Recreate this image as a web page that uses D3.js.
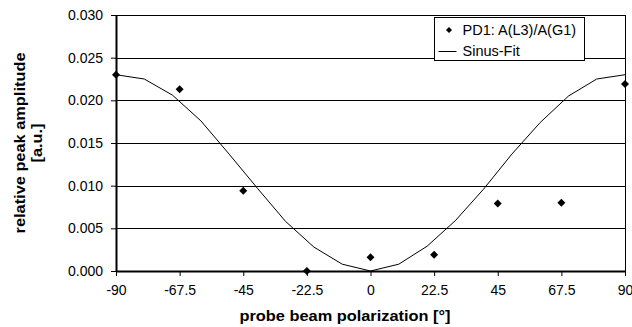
<!DOCTYPE html>
<html>
<head>
<meta charset="utf-8">
<script src="https://cdn.jsdelivr.net/npm/d3@7"></script>
<style>
  body { margin: 0; background: #fff; }
  svg { display: block; font-family: "Liberation Sans", Arial, sans-serif; }
</style>
</head>
<body>
<div id="chart"></div>
<script>
// measured points
var angles = [-90, -67.5, -45, -22.5, 0, 22.5, 45, 67.5, 90];
var amplitude = [0.0230, 0.0213, 0.0094, 0.0000, 0.0016, 0.0019, 0.0079, 0.0080, 0.0219];

// fit curve, every 10 degrees
var fitAngles = [-90, -80, -70, -60, -50, -40, -30, -20, -10, 0, 10, 20, 30, 40, 50, 60, 70, 80, 90];
var fitValues = [0.0230, 0.0225, 0.0206, 0.0176, 0.0137, 0.0097, 0.0058, 0.0028, 0.0008, 0.0000,
                 0.0008, 0.0029, 0.0059, 0.0096, 0.0137, 0.0174, 0.0205, 0.0225, 0.0230];

var xTicks = [-90, -67.5, -45, -22.5, 0, 22.5, 45, 67.5, 90];
var yTicks = [0, 0.005, 0.010, 0.015, 0.020, 0.025, 0.030];

var seriesNames = ["PD1: A(L3)/A(G1)", "Sinus-Fit"];

var width = 632, height = 327;
var margin = {top: 15, right: 7, bottom: 56, left: 116};
var innerWidth = width - margin.left - margin.right;
var innerHeight = height - margin.top - margin.bottom;

var svg = d3.select("#chart").append("svg")
    .attr("width", width)
    .attr("height", height);

var g = svg.append("g")
    .attr("transform", "translate(" + margin.left + "," + margin.top + ")");

var xScale = d3.scaleLinear().domain([-90, 90]).range([0, innerWidth]);
var yScale = d3.scaleLinear().domain([0, 0.030]).range([innerHeight, 0]);

// gridlines
g.selectAll(".grid")
    .data(yTicks.slice(1))
    .enter().append("line")
    .attr("class", "grid")
    .attr("x1", 0).attr("x2", innerWidth)
    .attr("y1", function(d) { return Math.round(yScale(d)) + 0.5; })
    .attr("y2", function(d) { return Math.round(yScale(d)) + 0.5; })
    .attr("stroke", "#000").attr("stroke-width", 1);

// right border
g.append("line")
    .attr("x1", innerWidth + 0.5).attr("x2", innerWidth + 0.5)
    .attr("y1", 0).attr("y2", innerHeight)
    .attr("stroke", "#000").attr("stroke-width", 1);

// axes
var yAxis = g.append("g")
    .call(d3.axisLeft(yScale).tickValues(yTicks).tickFormat(d3.format(".3f")).tickSizeInner(5).tickSizeOuter(0));
var xAxis = g.append("g")
    .attr("transform", "translate(0," + innerHeight + ")")
    .call(d3.axisBottom(xScale).tickValues(xTicks).tickFormat(function(d) { return d; }).tickSizeInner(5).tickSizeOuter(0));

[xAxis, yAxis].forEach(function(ax) {
    ax.select(".domain").attr("stroke", "#000").attr("stroke-width", 2);
    ax.selectAll(".tick line").attr("stroke", "#000");
    ax.selectAll("text")
        .attr("fill", "#000")
        .style("font-size", "14px")
        .style("font-family", "'Liberation Sans', Arial, sans-serif");
});
yAxis.selectAll("text").attr("x", -13);
xAxis.selectAll("text").attr("y", 14);

// fit line
var line = d3.line()
    .x(function(d, i) { return xScale(fitAngles[i]); })
    .y(function(d) { return yScale(d); });

g.append("path")
    .datum(fitValues)
    .attr("d", line)
    .attr("fill", "none")
    .attr("stroke", "#000")
    .attr("stroke-width", 1);

// diamonds
var diamond = "M0,-4L4,0L0,4L-4,0Z";
g.selectAll(".pt")
    .data(amplitude)
    .enter().append("path")
    .attr("class", "pt")
    .attr("d", diamond)
    .attr("transform", function(d, i) { return "translate(" + xScale(angles[i]) + "," + yScale(d) + ")"; })
    .attr("fill", "#000");

// legend
var legend = svg.append("g").attr("transform", "translate(434.5,17.5)");
legend.append("rect")
    .attr("width", 150).attr("height", 43)
    .attr("fill", "#fff").attr("stroke", "#000").attr("stroke-width", 1);
legend.append("path")
    .attr("d", "M0,-3L3,0L0,3L-3,0Z")
    .attr("transform", "translate(14.5,12.5)")
    .attr("fill", "#000");
legend.append("line")
    .attr("x1", 4).attr("x2", 22).attr("y1", 34).attr("y2", 34)
    .attr("stroke", "#000");
legend.selectAll(".ltext")
    .data(seriesNames)
    .enter().append("text")
    .attr("x", 28)
    .attr("y", function(d, i) { return 12.5 + i * 21; })
    .attr("dy", "0.35em")
    .style("font-size", "14.5px")
    .text(function(d) { return d; });

// axis titles (stretched a bit wider, like the original)
svg.append("text")
    .attr("transform", "translate(345,321) scale(1.17,1)")
    .attr("text-anchor", "middle")
    .style("font-size", "14px")
    .style("font-weight", "bold")
    .text("probe beam polarization [°]");

var yTitle = svg.append("text")
    .attr("transform", "translate(0," + (margin.top + innerHeight / 2) + ") rotate(-90) scale(1.17,1)")
    .attr("text-anchor", "middle")
    .style("font-size", "14px")
    .style("font-weight", "bold");
yTitle.append("tspan").attr("x", 0).attr("y", 25).text("relative peak amplitude");
yTitle.append("tspan").attr("x", 0).attr("y", 42).text("[a.u.]");
</script>
</body>
</html>
